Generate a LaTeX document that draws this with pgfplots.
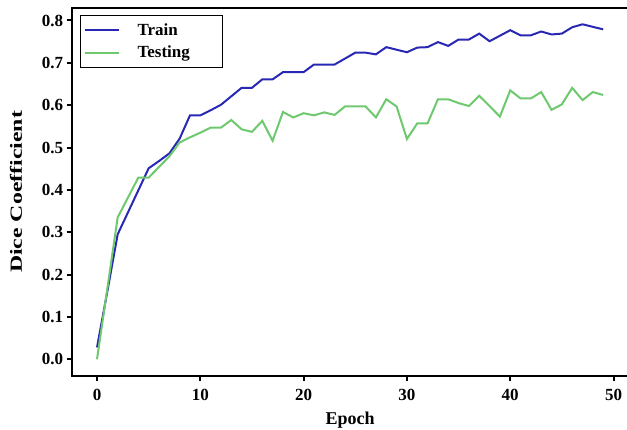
\documentclass[border=0pt]{standalone}
\usepackage{fontspec}
\setmainfont{Liberation Serif}
\usepackage{graphicx}
\usepackage{pgfplots}
\pgfplotsset{compat=1.18}

\definecolor{trainblue}{RGB}{40,40,180}
\definecolor{testgreen}{RGB}{110,200,110}

\pgfplotstableread{
epoch train test
0  0.028 0.000
1  0.160 0.167
2  0.295 0.335
3  0.347 0.382
4  0.399 0.429
5  0.451 0.429
6  0.468 0.454
7  0.486 0.479
8  0.521 0.512
9  0.576 0.524
10 0.576 0.535
11 0.588 0.547
12 0.601 0.547
13 0.621 0.565
14 0.641 0.543
15 0.641 0.537
16 0.661 0.563
17 0.661 0.516
18 0.678 0.584
19 0.678 0.571
20 0.678 0.581
21 0.696 0.576
22 0.696 0.583
23 0.696 0.577
24 0.710 0.597
25 0.724 0.597
26 0.724 0.597
27 0.720 0.571
28 0.737 0.614
29 0.731 0.597
30 0.725 0.520
31 0.736 0.557
32 0.737 0.557
33 0.749 0.614
34 0.740 0.614
35 0.755 0.605
36 0.755 0.598
37 0.769 0.622
38 0.751 0.598
39 0.764 0.573
40 0.777 0.635
41 0.765 0.616
42 0.765 0.616
43 0.774 0.631
44 0.767 0.589
45 0.769 0.602
46 0.784 0.641
47 0.791 0.612
48 0.785 0.631
49 0.779 0.624
}\dicedata

\begin{document}
\begin{tikzpicture}[x=1pt,y=1pt]
\begin{axis}[
  scale only axis,
  width=556.8pt, height=368pt,
  at={(71.7pt,54pt)}, anchor=south west,
  xmin=-2.45, xmax=51.45, ymin=-0.0395, ymax=0.8295,
  xtick={0,10,20,30,40,50},
  ytick={0,0.1,0.2,0.3,0.4,0.5,0.6,0.7,0.8},
  tick pos=left, tick align=outside,
  major tick length=5pt,
  every tick/.style={black, line width=2pt},
  axis line style={line width=2pt},
  /pgf/number format/assume math mode=true,
  ticklabel style={font=\fontsize{17}{20}\selectfont\bfseries},
  xticklabel style={yshift=-5pt},
  yticklabel style={/pgf/number format/.cd, fixed, fixed zerofill, precision=1},
  scaled y ticks=false,
  xlabel={Epoch}, ylabel={\scalebox{1.4}[1]{Dice Coefficient}},
  every axis x label/.style={at={(axis description cs:0.5,-0.133)}, anchor=base,
    font=\fontsize{18}{20}\selectfont\bfseries},
  every axis y label/.style={at={(axis description cs:-0.1,0.5)}, rotate=90, anchor=center,
    font=\fontsize{17}{20}\selectfont\bfseries},
  legend style={at={(axis description cs:0.0149,0.981)}, anchor=north west,
    draw=black, line width=1.2pt, inner xsep=3pt, inner ysep=6pt,
    font=\fontsize{17}{20}\selectfont\bfseries, cells={anchor=west}, row sep=5pt,
    /tikz/every odd column/.append style={column sep=16pt}},
  legend image code/.code={\draw[#1, line width=2pt] (0pt,0pt) -- (34pt,0pt);},
]
\addplot[trainblue, line width=2pt] table[x=epoch, y=train] {\dicedata};
\addlegendentry{Train}
\addplot[testgreen, line width=2pt] table[x=epoch, y=test] {\dicedata};
\addlegendentry{Testing\hspace*{28pt}}
\end{axis}
\pgfresetboundingbox
\useasboundingbox (0,0) rectangle (627,430);
\end{tikzpicture}
\end{document}
